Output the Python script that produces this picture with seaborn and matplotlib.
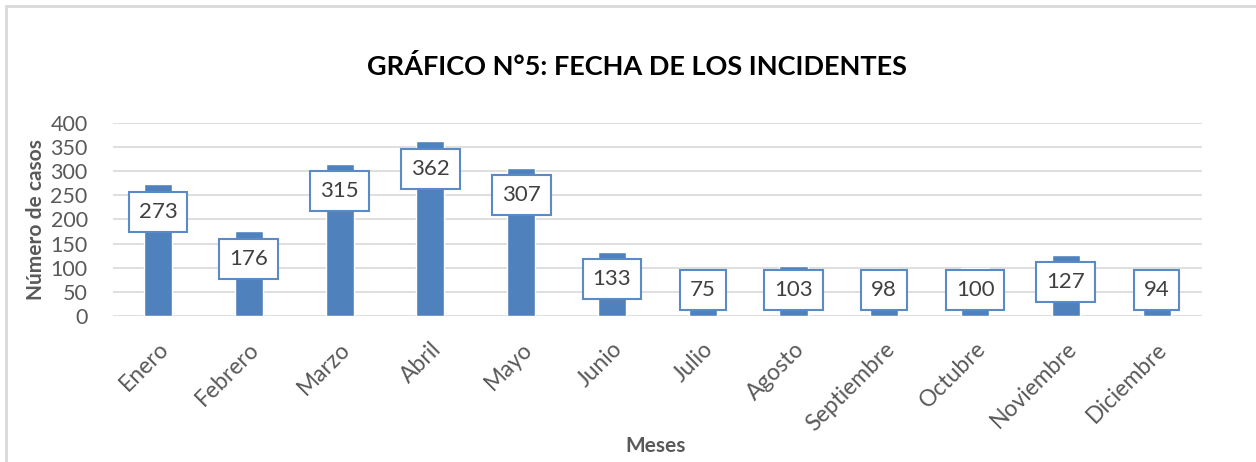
import pandas as pd
import seaborn as sns
import matplotlib.pyplot as plt
from matplotlib.lines import Line2D

# data
meses = ['Enero', 'Febrero', 'Marzo', 'Abril', 'Mayo', 'Junio', 'Julio',
         'Agosto', 'Septiembre', 'Octubre', 'Noviembre', 'Diciembre']
casos = [273, 176, 315, 362, 307, 133, 75, 103, 98, 100, 127, 94]
y_ticks = [0, 50, 100, 150, 200, 250, 300, 350, 400]

df = pd.DataFrame({'Mes': meses, 'Casos': casos})

sns.set_style('white')
plt.rcParams['font.family'] = ['Lato', 'DejaVu Sans']

bar_color = '#4F81BD'
gray = '#595959'

fig = plt.figure(figsize=(12.56, 4.62), dpi=100)
ax = fig.add_axes([0.0897, 0.316, 0.957 - 0.0897, 0.7344 - 0.316])

sns.barplot(data=df, x='Mes', y='Casos', color=bar_color, saturation=1,
            width=0.31, ax=ax, zorder=3)

ax.set_ylim(0, 400)
ax.set_yticks(y_ticks)
ax.set_xlim(-0.5, len(meses) - 0.5)
ax.yaxis.grid(True, color='#D9D9D9', linewidth=1.2, zorder=0)
ax.set_axisbelow(True)
for s in ax.spines.values():
    s.set_visible(False)

ax.tick_params(axis='y', labelsize=15.5, labelcolor=gray, length=0, pad=18)
ax.tick_params(axis='x', labelsize=16.5, labelcolor=gray, length=0, pad=16)
for lbl in ax.get_xticklabels():
    lbl.set_rotation(45)
    lbl.set_ha('right')
    lbl.set_rotation_mode('anchor')

ax.set_xlabel('Meses', fontsize=15, fontweight='bold', color=gray)
ax.set_ylabel('Número de casos', fontsize=15, fontweight='bold', color=gray, labelpad=3)
ax.xaxis.set_label_coords(0.498, -0.62)

# data labels: inside end, kept above the base
for i, v in enumerate(casos):
    ypos = max(v - 57, 54)
    ax.text(i, ypos, str(v), ha='center', va='center', fontsize=16, color='#404040',
            zorder=5,
            bbox=dict(boxstyle='square,pad=0.45', facecolor='white',
                      edgecolor='#5B8BC7', linewidth=1.5))

fig.text(0.507, 0.855, 'GRÁFICO N°5: FECHA DE LOS INCIDENTES', ha='center', va='center',
         fontsize=19.5, fontweight='bold', color='black')

# chart frame (left and top edges visible)
fig.add_artist(Line2D([6 / 1256, 6 / 1256], [0, 1 - 6 / 462], transform=fig.transFigure,
                      color='#D9D9D9', linewidth=2))
fig.add_artist(Line2D([6 / 1256, 1], [1 - 6 / 462, 1 - 6 / 462], transform=fig.transFigure,
                      color='#D9D9D9', linewidth=2))

fig.savefig('out.png', dpi=100, facecolor='white')
